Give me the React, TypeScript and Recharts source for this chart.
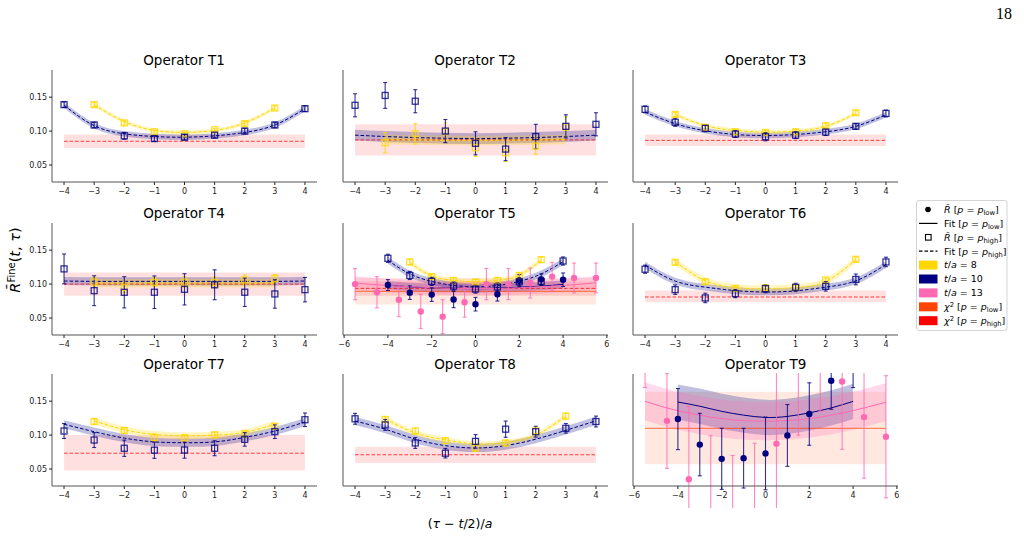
import React from 'react'
import { ComposedChart, XAxis, YAxis, Scatter, Line, Area, ErrorBar } from 'recharts'

const C = { t8: '#FFD700', t10: '#000080', t13: '#FF69B4', lo: '#FF4500', hi: '#FF0000', spine: '#555', ink: '#222' }

// (tau - t/2)/a grids
const X9 = [-4, -3, -2, -1, 0, 1, 2, 3, 4]
const X7 = [-3, -2, -1, 0, 1, 2, 3]
const X12 = [-5.5, -4.5, -3.5, -2.5, -1.5, -0.5, 0.5, 1.5, 2.5, 3.5, 4.5, 5.5]

const Y_DOM = [0.025, 0.19]
const Y_TICKS = [0.05, 0.1, 0.15]
const X_TICKS_N = [-4, -3, -2, -1, 0, 1, 2, 3, 4]
const X_TICKS_W = [-6, -4, -2, 0, 2, 4, 6]
const X_DOM_N = [-4.4, 4.4]
const X_DOM_W = [-6.05, 6.05]

// chi^2 entries: [value, low, high]
// T1
const t1Hi10 = [0.139, 0.109, 0.093, 0.089, 0.091, 0.094, 0.100, 0.109, 0.133]
const t1Hi10Err = [0.004, 0.004, 0.005, 0.004, 0.004, 0.004, 0.004, 0.004, 0.004]
const t1Hi8 = [0.139, 0.112, 0.099, 0.096, 0.102, 0.111, 0.134]
const t1Hi8Err = [0.003, 0.003, 0.002, 0.002, 0.002, 0.003, 0.003]
const t1Fit10 = [0.138, 0.108, 0.096, 0.092, 0.091, 0.093, 0.098, 0.109, 0.133]
const t1Fit8 = [0.139, 0.114, 0.101, 0.098, 0.101, 0.112, 0.134]
const t1Chi = [0.085, 0.075, 0.095]
// T2
const t2Hi10 = [0.138, 0.1525, 0.144, 0.100, 0.082, 0.0735, 0.092, 0.107, 0.110]
const t2Hi10Err = [0.017, 0.019, 0.017, 0.017, 0.017, 0.017, 0.018, 0.017, 0.017]
const t2Hi8 = [0.083, 0.096, 0.099, 0.0755, 0.068, 0.078, 0.106]
const t2Hi8Err = [0.015, 0.015, 0.013, 0.013, 0.013, 0.012, 0.015]
const t2Fit10 = [0.094, 0.092, 0.0905, 0.0895, 0.089, 0.0895, 0.0905, 0.092, 0.094]
const t2Fit8 = [0.0875, 0.087, 0.0865, 0.0862, 0.0865, 0.087, 0.0875]
const t2Chi = [0.087, 0.064, 0.110]
// T3
const t3Hi10 = [0.132, 0.113, 0.104, 0.0956, 0.0917, 0.094, 0.0985, 0.107, 0.126]
const t3Hi10Err = [0.005, 0.006, 0.005, 0.005, 0.006, 0.005, 0.005, 0.004, 0.005]
const t3Hi8 = [0.1245, 0.1055, 0.099, 0.098, 0.099, 0.108, 0.127]
const t3Hi8Err = [0.003, 0.003, 0.003, 0.003, 0.003, 0.003, 0.003]
const t3Fit10 = [0.128, 0.111, 0.1005, 0.095, 0.0935, 0.095, 0.099, 0.107, 0.124]
const t3Fit8 = [0.1245, 0.108, 0.101, 0.0985, 0.100, 0.107, 0.126]
const t3Chi = [0.0863, 0.078, 0.095]
// T4
const t4Hi10 = [0.1224, 0.0903, 0.0879, 0.088, 0.0923, 0.099, 0.088, 0.0855, 0.0918]
const t4Hi10Err = [0.022, 0.022, 0.023, 0.024, 0.023, 0.022, 0.021, 0.021, 0.018]
const t4Hi8 = [0.103, 0.095, 0.1027, 0.103, 0.1025, 0.1064, 0.108]
const t4Hi8Err = [0.007, 0.008, 0.0065, 0.008, 0.008, 0.007, 0.006]
const t4Fit10 = [0.1045, 0.104, 0.104, 0.104, 0.104, 0.104, 0.104, 0.104, 0.1045]
const t4Fit8 = [0.1015, 0.1015, 0.1015, 0.1015, 0.1015, 0.1015, 0.1015]
const t4Chi = [0.100, 0.083, 0.117]
// T5
const t5Hi10 = [0.138, 0.1127, 0.104, 0.097, 0.0927, 0.0957, 0.1035, 0.104, 0.134]
const t5Hi10Err = [0.006, 0.006, 0.006, 0.006, 0.006, 0.006, 0.006, 0.006, 0.006]
const t5Hi8 = [0.1326, 0.111, 0.1054, 0.103, 0.1054, 0.1127, 0.136]
const t5Hi8Err = [0.004, 0.004, 0.004, 0.004, 0.004, 0.004, 0.004]
const t5Lo10 = [0.0986, 0.0874, 0.0845, 0.0773, 0.0704, 0.085, 0.105, 0.107, 0.1064]
const t5Lo10Err = [0.008, 0.01, 0.01, 0.012, 0.01, 0.01, 0.009, 0.008, 0.01]
const t5Lo13 = [0.100, 0.088, 0.077, 0.0597, 0.052, 0.0733, 0.100, 0.100, 0.1015, 0.111, 0.109, 0.109]
const t5Lo13Err = [0.023, 0.023, 0.025, 0.025, 0.025, 0.022, 0.023, 0.023, 0.022, 0.021, 0.022, 0.022]
const t5FitHi10 = [0.135, 0.115, 0.104, 0.098, 0.096, 0.098, 0.104, 0.115, 0.133]
const t5FitHi8 = [0.132, 0.112, 0.1055, 0.1035, 0.1055, 0.113, 0.135]
const t5FitLo10 = [0.0985, 0.096, 0.0945, 0.094, 0.0935, 0.094, 0.0955, 0.097, 0.0995]
const t5FitLo13 = [0.1015, 0.099, 0.097, 0.0955, 0.094, 0.0935, 0.0935, 0.094, 0.0955, 0.097, 0.099, 0.102]
const t5ChiHi = [0.0937, 0.083, 0.104]
const t5ChiLo = [0.0894, 0.070, 0.109]
// T6
const t6Hi10 = [0.1219, 0.0918, 0.0796, 0.086, 0.0933, 0.0952, 0.0967, 0.1069, 0.1326]
const t6Hi10Err = [0.006, 0.007, 0.007, 0.006, 0.006, 0.006, 0.007, 0.008, 0.007]
const t6Hi8 = [0.132, 0.1035, 0.0935, 0.0945, 0.095, 0.106, 0.1365]
const t6Hi8Err = [0.003, 0.003, 0.003, 0.003, 0.003, 0.003, 0.003]
const t6Fit10 = [0.128, 0.1045, 0.0955, 0.0904, 0.0884, 0.090, 0.0955, 0.1048, 0.1287]
const t6Fit8 = [0.133, 0.105, 0.095, 0.093, 0.095, 0.104, 0.136]
const t6Chi = [0.081, 0.0733, 0.0904]
// T7
const t7Hi10 = [0.106, 0.0927, 0.0806, 0.0777, 0.078, 0.0806, 0.0937, 0.105, 0.1226]
const t7Hi10Err = [0.011, 0.011, 0.012, 0.012, 0.012, 0.011, 0.01, 0.01, 0.01]
const t7Hi8 = [0.120, 0.1067, 0.0966, 0.096, 0.1004, 0.102, 0.113]
const t7Hi8Err = [0.004, 0.004, 0.005, 0.004, 0.004, 0.004, 0.004]
const t7Fit10 = [0.116, 0.105, 0.0956, 0.090, 0.0888, 0.090, 0.0966, 0.106, 0.1193]
const t7Fit8 = [0.121, 0.108, 0.101, 0.099, 0.100, 0.104, 0.116]
const t7Chi = [0.0733, 0.048, 0.100]
// T8
const t8Hi10 = [0.124, 0.115, 0.0884, 0.0733, 0.0907, 0.1087, 0.105, 0.110, 0.120]
const t8Hi10Err = [0.008, 0.008, 0.008, 0.007, 0.01, 0.012, 0.008, 0.007, 0.008]
const t8Hi8 = [0.123, 0.106, 0.0917, 0.0806, 0.0884, 0.106, 0.128]
const t8Hi8Err = [0.004, 0.004, 0.004, 0.004, 0.004, 0.004, 0.004]
const t8Fit10 = [0.1207, 0.1087, 0.094, 0.0845, 0.081, 0.0845, 0.094, 0.107, 0.121]
const t8Fit8 = [0.124, 0.103, 0.093, 0.087, 0.089, 0.100, 0.128]
const t8Chi = [0.071, 0.059, 0.083]
// T9
const t9Lo10 = [0.1236, 0.086, 0.065, 0.066, 0.073, 0.0995, 0.131, 0.180, 0.220]
const t9Lo10Err = [0.045, 0.046, 0.045, 0.044, 0.0535, 0.0455, 0.046, 0.042, 0.050]
const t9Lo13 = [0.220, 0.121, 0.035, 0.000, -0.010, 0.000, 0.0874, 0.200, 0.220, 0.179, 0.1265, 0.0975]
const t9Lo13Err = [0.050, 0.070, 0.107, 0.099, 0.080, 0.088, 0.110, 0.100, 0.085, 0.100, 0.090, 0.090]
const t9FitLo10 = [0.1487, 0.1425, 0.135, 0.1294, 0.126, 0.1275, 0.1328, 0.140, 0.1497]
const t9FitLo13 = [0.1497, 0.140, 0.1325, 0.1265, 0.1225, 0.1207, 0.1207, 0.1225, 0.1265, 0.1325, 0.140, 0.1483]
const t9ChiLo = [0.110, 0.057, 0.164]

// half widths of the fit bands
const FIT_W = { t1: [0.004, 0.003], t2: [0.008, 0.007], t3: [0.004, 0.003], t4: [0.006, 0.006], t5: [0.005, 0.004, 0.006, 0.01], t6: [0.005, 0.005], t7: [0.006, 0.005], t8: [0.006, 0.004], t9: [0.026, 0.028] }

type Pts = { xs: number[]; ys: number[]; es: number[]; color: string; kind: 'sq' | 'dot' }
type Fit = { xs: number[]; ys: number[]; w: number; color: string; dash: boolean }
type Chi = { x0: number; x1: number; v: number[]; color: string; dash: boolean }
type PanelDef = { title: string; wide: boolean; pts: Pts[]; fits: Fit[]; chis: Chi[] }

const pts = (xs: number[], ys: number[], es: number[], color: string, kind: 'sq' | 'dot'): Pts => ({ xs, ys, es, color, kind })
const fit = (xs: number[], ys: number[], w: number, color: string, dash: boolean): Fit => ({ xs, ys, w, color, dash })
const chi = (x0: number, x1: number, v: number[], color: string, dash: boolean): Chi => ({ x0, x1, v, color, dash })

const PANELS: PanelDef[] = [
  { title: 'Operator T1', wide: false, pts: [pts(X7, t1Hi8, t1Hi8Err, C.t8, 'sq'), pts(X9, t1Hi10, t1Hi10Err, C.t10, 'sq')],
    fits: [fit(X9, t1Fit10, FIT_W.t1[0], C.t10, true), fit(X7, t1Fit8, FIT_W.t1[1], C.t8, true)], chis: [chi(-4, 4, t1Chi, C.hi, true)] },
  { title: 'Operator T2', wide: false, pts: [pts(X7, t2Hi8, t2Hi8Err, C.t8, 'sq'), pts(X9, t2Hi10, t2Hi10Err, C.t10, 'sq')],
    fits: [fit(X9, t2Fit10, FIT_W.t2[0], C.t10, true), fit(X7, t2Fit8, FIT_W.t2[1], C.t8, true)], chis: [chi(-4, 4, t2Chi, C.hi, true)] },
  { title: 'Operator T3', wide: false, pts: [pts(X7, t3Hi8, t3Hi8Err, C.t8, 'sq'), pts(X9, t3Hi10, t3Hi10Err, C.t10, 'sq')],
    fits: [fit(X9, t3Fit10, FIT_W.t3[0], C.t10, true), fit(X7, t3Fit8, FIT_W.t3[1], C.t8, true)], chis: [chi(-4, 4, t3Chi, C.hi, true)] },
  { title: 'Operator T4', wide: false, pts: [pts(X7, t4Hi8, t4Hi8Err, C.t8, 'sq'), pts(X9, t4Hi10, t4Hi10Err, C.t10, 'sq')],
    fits: [fit(X9, t4Fit10, FIT_W.t4[0], C.t10, true), fit(X7, t4Fit8, FIT_W.t4[1], C.t8, true)], chis: [chi(-4, 4, t4Chi, C.hi, true)] },
  { title: 'Operator T5', wide: true,
    pts: [pts(X12, t5Lo13, t5Lo13Err, C.t13, 'dot'), pts(X9, t5Lo10, t5Lo10Err, C.t10, 'dot'), pts(X7, t5Hi8, t5Hi8Err, C.t8, 'sq'), pts(X9, t5Hi10, t5Hi10Err, C.t10, 'sq')],
    fits: [fit(X9, t5FitHi10, FIT_W.t5[0], C.t10, true), fit(X7, t5FitHi8, FIT_W.t5[1], C.t8, true), fit(X9, t5FitLo10, FIT_W.t5[2], C.t10, false), fit(X12, t5FitLo13, FIT_W.t5[3], C.t13, false)],
    chis: [chi(-5.5, 5.5, t5ChiLo, C.lo, false), chi(-5.5, 5.5, t5ChiHi, C.hi, true)] },
  { title: 'Operator T6', wide: false, pts: [pts(X7, t6Hi8, t6Hi8Err, C.t8, 'sq'), pts(X9, t6Hi10, t6Hi10Err, C.t10, 'sq')],
    fits: [fit(X9, t6Fit10, FIT_W.t6[0], C.t10, true), fit(X7, t6Fit8, FIT_W.t6[1], C.t8, true)], chis: [chi(-4, 4, t6Chi, C.hi, true)] },
  { title: 'Operator T7', wide: false, pts: [pts(X7, t7Hi8, t7Hi8Err, C.t8, 'sq'), pts(X9, t7Hi10, t7Hi10Err, C.t10, 'sq')],
    fits: [fit(X9, t7Fit10, FIT_W.t7[0], C.t10, true), fit(X7, t7Fit8, FIT_W.t7[1], C.t8, true)], chis: [chi(-4, 4, t7Chi, C.hi, true)] },
  { title: 'Operator T8', wide: false, pts: [pts(X7, t8Hi8, t8Hi8Err, C.t8, 'sq'), pts(X9, t8Hi10, t8Hi10Err, C.t10, 'sq')],
    fits: [fit(X9, t8Fit10, FIT_W.t8[0], C.t10, true), fit(X7, t8Fit8, FIT_W.t8[1], C.t8, true)], chis: [chi(-4, 4, t8Chi, C.hi, true)] },
  { title: 'Operator T9', wide: true,
    pts: [pts(X12, t9Lo13, t9Lo13Err, C.t13, 'dot'), pts(X9, t9Lo10, t9Lo10Err, C.t10, 'dot')],
    fits: [fit(X9, t9FitLo10, FIT_W.t9[0], C.t10, false), fit(X12, t9FitLo13, FIT_W.t9[1], C.t13, false)],
    chis: [chi(-5.5, 5.5, t9ChiLo, C.lo, false)] },
]

// axes boxes
const COL_X = [51.5, 342.5, 633]
const ROW_Y = [70, 222.5, 373.5]
const PW = 265, PH = 112, YW = 34, XH = 22

const fmtX = (v: number) => String(v).replace('-', '\u2212')
const fmtY = (v: number) => v.toFixed(2)

const square = (color: string) => (p: any) =>
  <rect x={p.cx - 3} y={p.cy - 3} width={6} height={6} fill="none" stroke={color} strokeWidth={1.3} strokeOpacity={0.8} />
const dot = (color: string) => (p: any) => <circle cx={p.cx} cy={p.cy} r={3.2} fill={color} />

function Panel({ p, i }: { p: PanelDef; i: number }) {
  const col = i % 3, row = Math.floor(i / 3)
  const left = COL_X[col], top = ROW_Y[row]
  const xDom = p.wide ? X_DOM_W : X_DOM_N
  const tickFont = { fontSize: 8, fill: C.ink, fontFamily: 'DejaVu Sans' }
  return (
    <div style={{ position: 'absolute', left: left - YW, top: top - 1 }}>
      <ComposedChart width={YW + PW + 1} height={PH + XH + 1} margin={{ top: 1, right: 1, bottom: 0, left: 0 }}>
        <XAxis type="number" dataKey="x" domain={xDom} ticks={p.wide ? X_TICKS_W : X_TICKS_N} allowDataOverflow interval={0}
          height={XH} tickSize={3} tickMargin={3} tick={tickFont} tickFormatter={fmtX}
          axisLine={{ stroke: C.spine }} tickLine={{ stroke: C.ink }} />
        <YAxis type="number" domain={Y_DOM} ticks={Y_TICKS} allowDataOverflow width={YW} tickSize={3} tickMargin={2}
          tick={col === 0 ? tickFont : false} tickFormatter={fmtY} axisLine={{ stroke: C.spine }} tickLine={{ stroke: C.ink }} />
        <XAxis xAxisId="top" orientation="top" type="number" domain={xDom} allowDataOverflow height={0} tick={false} tickLine={false} axisLine={{ stroke: C.spine }} />
        <YAxis yAxisId="right" orientation="right" type="number" domain={Y_DOM} allowDataOverflow width={0} tick={false} tickLine={false} axisLine={{ stroke: C.spine }} />

        {p.chis.map((c, k) => (
          <Area key={`cb${k}`} data={[{ x: c.x0, r: [c.v[1], c.v[2]] }, { x: c.x1, r: [c.v[1], c.v[2]] }]} dataKey="r" type="linear"
            stroke="none" fill={c.color} fillOpacity={0.12} dot={false} activeDot={false} isAnimationActive={false} />
        ))}
        {p.fits.map((f, k) => (
          <Area key={`fb${k}`} data={f.xs.map((x, j) => ({ x, r: [f.ys[j] - f.w, f.ys[j] + f.w] }))} dataKey="r" type="natural"
            stroke="none" fill={f.color} fillOpacity={0.25} dot={false} activeDot={false} isAnimationActive={false} />
        ))}
        {p.chis.map((c, k) => (
          <Line key={`cl${k}`} data={[{ x: c.x0, y: c.v[0] }, { x: c.x1, y: c.v[0] }]} dataKey="y" type="linear"
            stroke={c.color} strokeOpacity={0.75} strokeWidth={1} strokeDasharray={c.dash ? '3.5 2' : undefined}
            dot={false} activeDot={false} isAnimationActive={false} />
        ))}
        {p.fits.map((f, k) => (
          <Line key={`fl${k}`} data={f.xs.map((x, j) => ({ x, y: f.ys[j] }))} dataKey="y" type="natural"
            stroke={f.color} strokeWidth={1} strokeDasharray={f.dash ? '3.5 2' : undefined}
            dot={false} activeDot={false} isAnimationActive={false} />
        ))}
        {p.pts.map((s, k) => (
          <Scatter key={`pt${k}`} data={s.xs.map((x, j) => ({ x, y: s.ys[j], e: s.es[j] }))} dataKey="y"
            shape={s.kind === 'sq' ? square(s.color) : dot(s.color)} isAnimationActive={false}>
            <ErrorBar dataKey="e" direction="y" width={2} stroke={s.color} strokeWidth={1.1} strokeOpacity={0.8} />
          </Scatter>
        ))}
      </ComposedChart>
    </div>
  )
}

function Legend() {
  const x0 = 916.5, y0 = 200.5, rowY = (i: number) => 209.5 + i * 13.9
  const P = ({ sub }: { sub: string }) => (
    <>
      {' ['}<tspan fontStyle="italic">p</tspan>{' = '}<tspan fontStyle="italic">p</tspan>
      <tspan dy={2.2} fontSize={6.8}>{sub}</tspan><tspan dy={-2.2}>]</tspan>
    </>
  )
  const patches = [C.t8, C.t10, C.t13, C.lo, C.hi]
  return (
    <g fontFamily="DejaVu Sans" fontSize={9.5} fill="#000">
      <rect x={x0} y={y0} width={90.5} height={130} rx={2.5} fill="#fff" stroke="#d4d4d4" />
      <circle cx={928} cy={rowY(0)} r={2.8} fill="#000" />
      <line x1={919} x2={937.5} y1={rowY(1)} y2={rowY(1)} stroke="#000" strokeWidth={1.2} />
      <rect x={925.5} y={rowY(2) - 2.8} width={5.6} height={5.6} fill="none" stroke="#000" strokeWidth={1.1} />
      <line x1={919} x2={937.5} y1={rowY(3)} y2={rowY(3)} stroke="#000" strokeWidth={1.2} strokeDasharray="3.5 2" />
      {patches.map((c, k) => <rect key={k} x={919} y={rowY(4 + k) - 4.5} width={18.5} height={9} fill={c} />)}
      <text x={944} y={rowY(0) + 3.3}><tspan fontStyle="italic">R̄</tspan><P sub="low" /></text>
      <text x={944} y={rowY(1) + 3.3}>Fit <P sub="low" /></text>
      <text x={944} y={rowY(2) + 3.3}><tspan fontStyle="italic">R̄</tspan><P sub="high" /></text>
      <text x={944} y={rowY(3) + 3.3}>Fit <P sub="high" /></text>
      {['8', '10', '13'].map((t, k) => (
        <text key={t} x={944} y={rowY(4 + k) + 3.3}><tspan fontStyle="italic">t</tspan>/<tspan fontStyle="italic">a</tspan> = {t}</text>
      ))}
      <text x={944} y={rowY(7) + 3.3}><tspan fontStyle="italic">χ</tspan><tspan dy={-3.5} fontSize={6.8}>2</tspan><tspan dy={3.5}> </tspan><P sub="low" /></text>
      <text x={944} y={rowY(8) + 3.3}><tspan fontStyle="italic">χ</tspan><tspan dy={-3.5} fontSize={6.8}>2</tspan><tspan dy={3.5}> </tspan><P sub="high" /></text>
    </g>
  )
}

export default function App() {
  return (
    <div style={{ position: 'absolute', left: 0, top: 0, width: 1024, height: 538, background: '#fff', fontFamily: 'DejaVu Sans' }}>
      {PANELS.map((p, i) => <Panel key={p.title} p={p} i={i} />)}
      <svg width={1024} height={538} style={{ position: 'absolute', left: 0, top: 0, pointerEvents: 'none' }}>
        <text x={1012} y={19} textAnchor="end" fontFamily="Liberation Serif" fontSize={16}>18</text>
        {PANELS.map((p, i) => (
          <text key={p.title} x={COL_X[i % 3] + PW / 2} y={ROW_Y[Math.floor(i / 3)] - 5} textAnchor="middle"
            fontFamily="DejaVu Sans" fontSize={13.5} fill="#000">{p.title}</text>
        ))}
        <text transform="rotate(-90 20 260)" x={20} y={260} textAnchor="middle" fontFamily="DejaVu Sans" fontSize={14.5}>
          <tspan fontStyle="italic">R̄</tspan><tspan dy={-5} fontSize={10}>Fine</tspan><tspan dy={5}>(</tspan><tspan fontStyle="italic">t</tspan>, <tspan fontStyle="italic">τ</tspan>)
        </text>
        <text x={460} y={528} textAnchor="middle" fontFamily="DejaVu Sans" fontSize={12.5}>
          (<tspan fontStyle="italic">τ</tspan> − <tspan fontStyle="italic">t</tspan>/2)/<tspan fontStyle="italic">a</tspan>
        </text>
        <Legend />
      </svg>
    </div>
  )
}
